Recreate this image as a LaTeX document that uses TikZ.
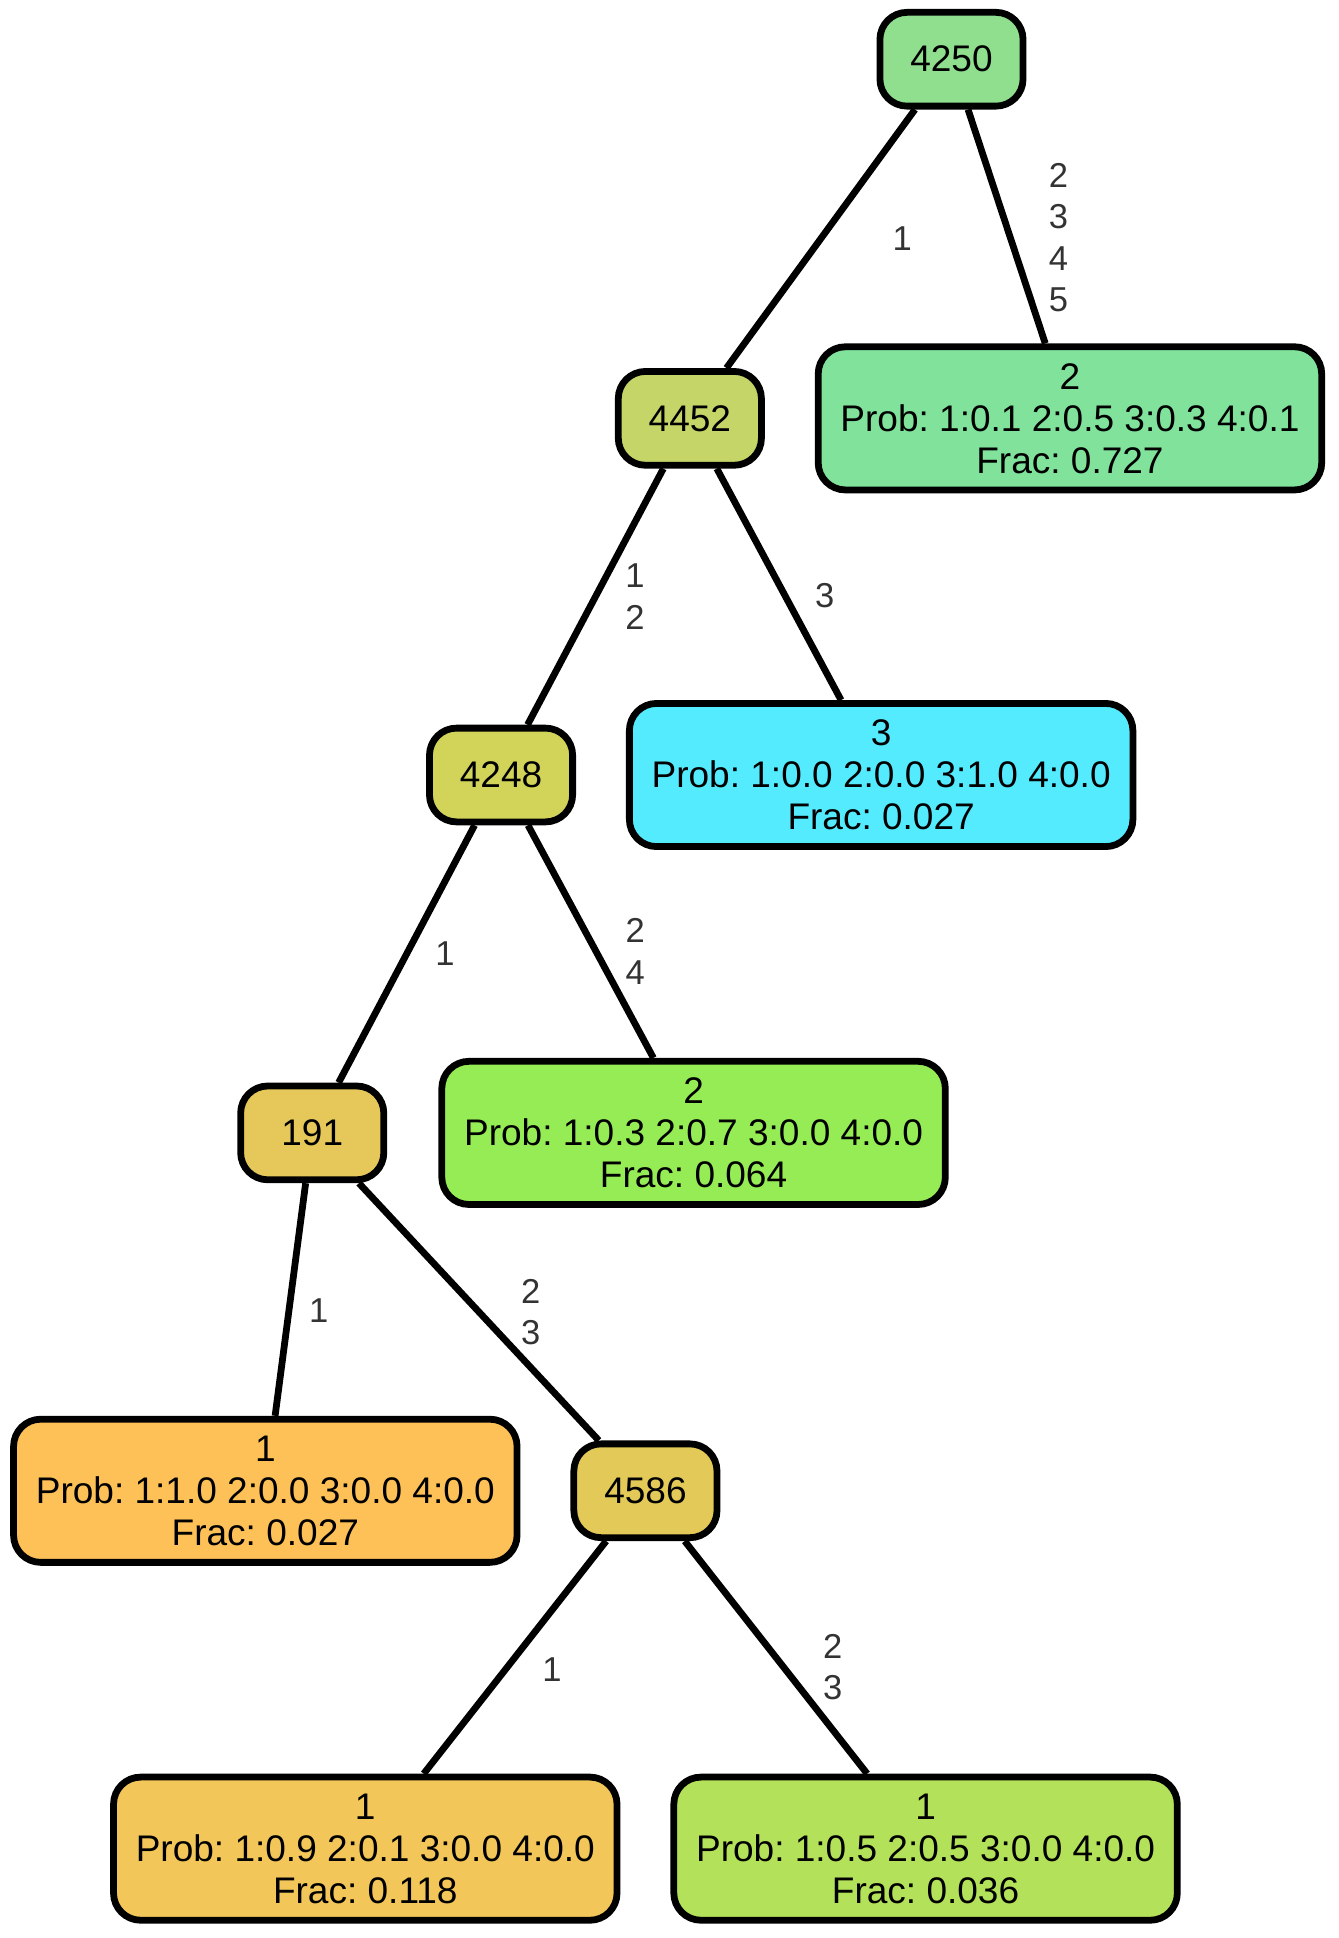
\documentclass[tikz,border=0pt]{standalone}
\usepackage{fontspec}
\setmainfont{Liberation Sans}
\usepackage{xcolor}
\usepackage{tikz}
\usetikzlibrary{positioning, calc}
\frenchspacing
\definecolor{rootgreen}{HTML}{8FDF8F}
\definecolor{mintleaf}{HTML}{80E29B}
\definecolor{oliveA}{HTML}{C6D568}
\definecolor{oliveB}{HTML}{D2D45A}
\definecolor{cyanleaf}{HTML}{55EBFF}
\definecolor{sandA}{HTML}{E6C85A}
\definecolor{limeleaf}{HTML}{96EC55}
\definecolor{orangeleaf}{HTML}{FEC157}
\definecolor{sandB}{HTML}{E3C957}
\definecolor{goldleaf}{HTML}{F2C659}
\definecolor{yellowleaf}{HTML}{B3E159}
\definecolor{labelgray}{HTML}{333333}

\begin{document}
\begin{tikzpicture}[x=1pt, y=-1pt,
  split/.style={draw, line width=5.5pt, rounded corners=22pt, inner sep=0pt,
    minimum width=116pt, minimum height=76pt, align=center,
    font=\fontsize{30}{34}\selectfont},
  leaf/.style={split, minimum width=408pt, minimum height=116pt},
  edge/.style={line width=5.5pt},
  elab/.style={midway, align=center, text=labelgray,
    font=\fontsize{28}{33.5}\selectfont}]
  \useasboundingbox (0,0) rectangle (1085,1570.4);

  % inner splits
  \node[split, fill=rootgreen] (n4250) at (771,48) {4250};
  \node[split, fill=oliveA] (n4452) at (559,339) {4452};
  \node[split, fill=oliveB] (n4248) at (406,628) {4248};
  \node[split, fill=sandA] (n191) at (253,918) {191};
  \node[split, fill=sandB] (n4586) at (523,1208) {4586};

  % leaves
  \node[leaf, fill=mintleaf] (leafmint) at (867,339) {2\\Prob: 1:0.1 2:0.5 3:0.3 4:0.1\\Frac: 0.727};
  \node[leaf, fill=cyanleaf] (leafcyan) at (714,628) {3\\Prob: 1:0.0 2:0.0 3:1.0 4:0.0\\Frac: 0.027};
  \node[leaf, fill=limeleaf] (leaflime) at (562,918) {2\\Prob: 1:0.3 2:0.7 3:0.0 4:0.0\\Frac: 0.064};
  \node[leaf, fill=orangeleaf] (leaforange) at (215,1208) {1\\Prob: 1:1.0 2:0.0 3:0.0 4:0.0\\Frac: 0.027};
  \node[leaf, fill=goldleaf] (leafgold) at (296,1498) {1\\Prob: 1:0.9 2:0.1 3:0.0 4:0.0\\Frac: 0.118};
  \node[leaf, fill=yellowleaf] (leafyellow) at (750,1498) {1\\Prob: 1:0.5 2:0.5 3:0.0 4:0.0\\Frac: 0.036};

  % edges
  \draw[edge] (n4250) -- node[elab, xshift=66pt] {1} (n4452);
  \draw[edge] (n4250) -- node[elab, xshift=42pt, yshift=-9pt] {2\\3\\4\\5} (leafmint);
  \draw[edge] (n4452) -- node[elab, xshift=32pt] {1\\2} (n4248);
  \draw[edge] (n4452) -- node[elab, xshift=37pt, yshift=-9pt] {3} (leafcyan);
  \draw[edge] (n4248) -- node[elab, xshift=31pt] {1} (n191);
  \draw[edge] (n4248) -- node[elab, xshift=36pt, yshift=-8pt] {2\\4} (leaflime);
  \draw[edge] (n191) -- node[elab, xshift=23pt, yshift=-9pt] {1} (leaforange);
  \draw[edge] (n191) -- node[elab, xshift=42pt] {2\\3} (n4586);
  \draw[edge] (n4586) -- node[elab, xshift=30pt, yshift=-10pt] {1} (leafgold);
  \draw[edge] (n4586) -- node[elab, xshift=46pt, yshift=-8pt] {2\\3} (leafyellow);
\end{tikzpicture}
\end{document}
